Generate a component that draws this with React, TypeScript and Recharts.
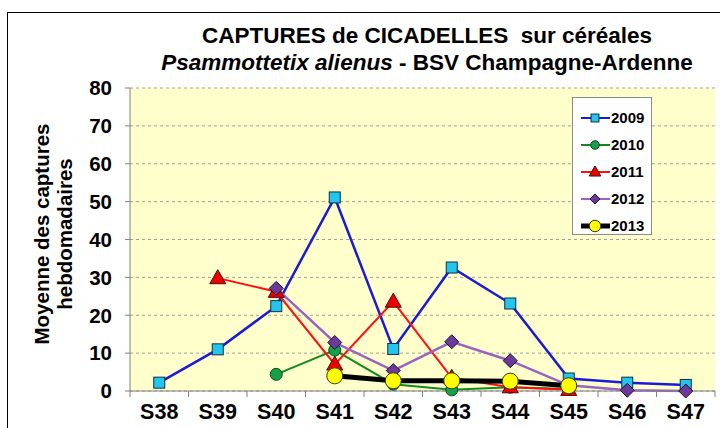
import React from 'react';
import { LineChart, Line, XAxis, YAxis, CartesianGrid, Legend } from 'recharts';

const weeks = ['S38', 'S39', 'S40', 'S41', 'S42', 'S43', 'S44', 'S45', 'S46', 'S47'];
const y2009 = [2.2, 11, 22.4, 51.1, 11.1, 32.6, 23.1, 3.3, 2.2, 1.6];
const y2010 = [null, null, 4.4, 10.8, 1.8, 0.3, 1, 0.5, null, null];
const y2011 = [null, 29.8, 26.2, 7, 23.6, 3.5, 1, 0.3, null, null];
const y2012 = [null, null, 27.1, 12.8, 5.4, 13, 8, 1.5, 0.2, 0];
const y2013 = [null, null, null, 4, 2.7, 2.7, 2.6, 1.4, null, null];
const yTicks = [0, 10, 20, 30, 40, 50, 60, 70, 80];

const data = weeks.map((w, i) => ({
  week: w,
  y2009: y2009[i],
  y2010: y2010[i],
  y2011: y2011[i],
  y2012: y2012[i],
  y2013: y2013[i]
}));

const series = [
  { key: 'y2009', name: '2009', color: '#1a1ad8', width: 2.5, marker: 'square' },
  { key: 'y2010', name: '2010', color: '#138a1e', width: 2, marker: 'circle' },
  { key: 'y2011', name: '2011', color: '#ff1010', width: 2, marker: 'triangle' },
  { key: 'y2012', name: '2012', color: '#9a62c4', width: 2.5, marker: 'diamond' },
  { key: 'y2013', name: '2013', color: '#000000', width: 5, marker: 'yellow' }
];

const FONT = 'Arial, "Liberation Sans", sans-serif';
const W = 720;
const H = 428;
const PLOT_LEFT = 130;
const PLOT_RIGHT = 715;
const BAND = (PLOT_RIGHT - PLOT_LEFT) / weeks.length;

function drawMarker(kind: string, cx: number, cy: number, scale = 1) {
  if (kind === 'square') {
    const s = 11 * scale;
    return <rect x={cx - s / 2} y={cy - s / 2} width={s} height={s} fill="#22c4f0" stroke="#0c3040" strokeWidth={1} />;
  }
  if (kind === 'circle') {
    return <circle cx={cx} cy={cy} r={6 * scale} fill="#16a048" stroke="#0b4a1e" strokeWidth={1} />;
  }
  if (kind === 'triangle') {
    const h = 14 * scale;
    const half = 8 * scale;
    return (
      <polygon
        points={`${cx},${cy - h * 0.6} ${cx + half},${cy + h * 0.4} ${cx - half},${cy + h * 0.4}`}
        fill="#ee0000"
        stroke="#4a0a0a"
        strokeWidth={1}
      />
    );
  }
  if (kind === 'diamond') {
    const d = 7 * scale;
    return (
      <polygon
        points={`${cx},${cy - d} ${cx + d},${cy} ${cx},${cy + d} ${cx - d},${cy}`}
        fill="#6a3a9a"
        stroke="#1e1030"
        strokeWidth={1}
      />
    );
  }
  return <circle cx={cx} cy={cy} r={8 * scale} fill="#ffff00" stroke="#3a3a00" strokeWidth={1} />;
}

const makeDot = (kind: string) => (props: any) => {
  const { cx, cy, index, value } = props;
  if (value == null || cy == null) return <g key={`d-${kind}-${index}`} />;
  return <g key={`d-${kind}-${index}`}>{drawMarker(kind, cx, cy)}</g>;
};

const XTick = (props: any) => {
  const { x, y, payload, index } = props;
  return (
    <g>
      <line x1={x - BAND / 2} x2={x - BAND / 2} y1={y} y2={y + 6} stroke="#808080" />
      {index === weeks.length - 1 && (
        <line x1={x + BAND / 2} x2={x + BAND / 2} y1={y} y2={y + 6} stroke="#808080" />
      )}
      <text x={x} y={y + 28} textAnchor="middle" fontSize={21.5} fontWeight="bold" fontFamily={FONT} fill="#000">
        {payload.value}
      </text>
    </g>
  );
};

const renderLegend = () => (
  <div
    style={{
      width: 80,
      height: 138,
      boxSizing: 'border-box',
      background: '#fff',
      border: '1px solid #8a8a8a',
      paddingTop: 6
    }}
  >
    {series.map((s) => (
      <div key={s.key} style={{ height: 27, display: 'flex', alignItems: 'center' }}>
        <svg width={38} height={20} style={{ display: 'block' }}>
          <line x1={8} x2={37} y1={10} y2={10} stroke={s.color} strokeWidth={s.marker === 'yellow' ? 5 : 2} />
          {drawMarker(s.marker, 22, 10, 0.72)}
        </svg>
        <span style={{ fontFamily: FONT, fontWeight: 'bold', fontSize: 15, color: '#000', marginLeft: 0 }}>
          {s.name}
        </span>
      </div>
    ))}
  </div>
);

const App: React.FC = () => {
  return (
    <div style={{ position: 'fixed', left: 0, top: 0, width: W, height: H, background: '#fff', overflow: 'hidden' }}>
      <div
        style={{
          position: 'absolute',
          left: 7,
          top: 12,
          width: W,
          height: H,
          borderLeft: '1px solid #000',
          borderTop: '1px solid #000'
        }}
      />
      <div
        style={{
          position: 'absolute',
          left: 130,
          width: 594,
          top: 22,
          textAlign: 'center',
          fontFamily: FONT,
          fontWeight: 'bold',
          fontSize: 22.5,
          lineHeight: '27px',
          color: '#000'
        }}
      >
        <div style={{ whiteSpace: 'pre' }}>CAPTURES de CICADELLES  sur céréales</div>
        <div>
          <i>Psammottetix alienus</i> - BSV Champagne-Ardenne
        </div>
      </div>
      <div
        style={{
          position: 'absolute',
          left: 53,
          top: 236,
          width: 0,
          height: 0
        }}
      >
        <div
          style={{
            position: 'absolute',
            left: -150,
            top: -25,
            width: 300,
            textAlign: 'center',
            transform: 'rotate(-90deg)',
            fontFamily: FONT,
            fontWeight: 'bold',
            fontSize: 20.5,
            lineHeight: '23px',
            color: '#000'
          }}
        >
          Moyenne des captures
          <br />
          hebdomadaires
        </div>
      </div>
      <div style={{ position: 'absolute', left: 0, top: 0 }}>
        <LineChart width={W} height={H} data={data} margin={{ top: 88, right: 5, bottom: 7, left: 0 }}>
          <CartesianGrid vertical={false} fill="#ffffcc" stroke="#a0a0a0" strokeDasharray="3 3" />
          <XAxis
            dataKey="week"
            interval={0}
            padding={{ left: BAND / 2, right: BAND / 2 }}
            axisLine={{ stroke: '#808080' }}
            tickLine={false}
            tickSize={0}
            tickMargin={0}
            height={30}
            tick={<XTick />}
          />
          <XAxis
            xAxisId="top"
            dataKey="week"
            orientation="top"
            height={0}
            tick={false}
            tickLine={false}
            axisLine={{ stroke: '#a0a0a0' }}
          />
          <YAxis
            domain={[0, 80]}
            ticks={yTicks}
            width={PLOT_LEFT}
            axisLine={{ stroke: '#808080' }}
            tickLine={{ stroke: '#808080' }}
            tickSize={5}
            tickMargin={13}
            tick={{ fontSize: 20.5, fontWeight: 'bold', fill: '#000', fontFamily: FONT }}
          />
          <YAxis
            yAxisId="right"
            orientation="right"
            domain={[0, 80]}
            width={0}
            tick={false}
            tickLine={false}
            axisLine={{ stroke: '#a0a0a0' }}
          />
          <Legend
            layout="horizontal"
            verticalAlign="middle"
            align="center"
            content={renderLegend}
            wrapperStyle={{ left: 572, top: 97, width: 80, height: 138 }}
          />
          {series.map((s) => (
            <Line
              key={s.key}
              type="linear"
              dataKey={s.key}
              name={s.name}
              stroke={s.color}
              strokeWidth={s.width}
              dot={makeDot(s.marker)}
              activeDot={false}
              isAnimationActive={false}
            />
          ))}
        </LineChart>
      </div>
    </div>
  );
};

export default App;
